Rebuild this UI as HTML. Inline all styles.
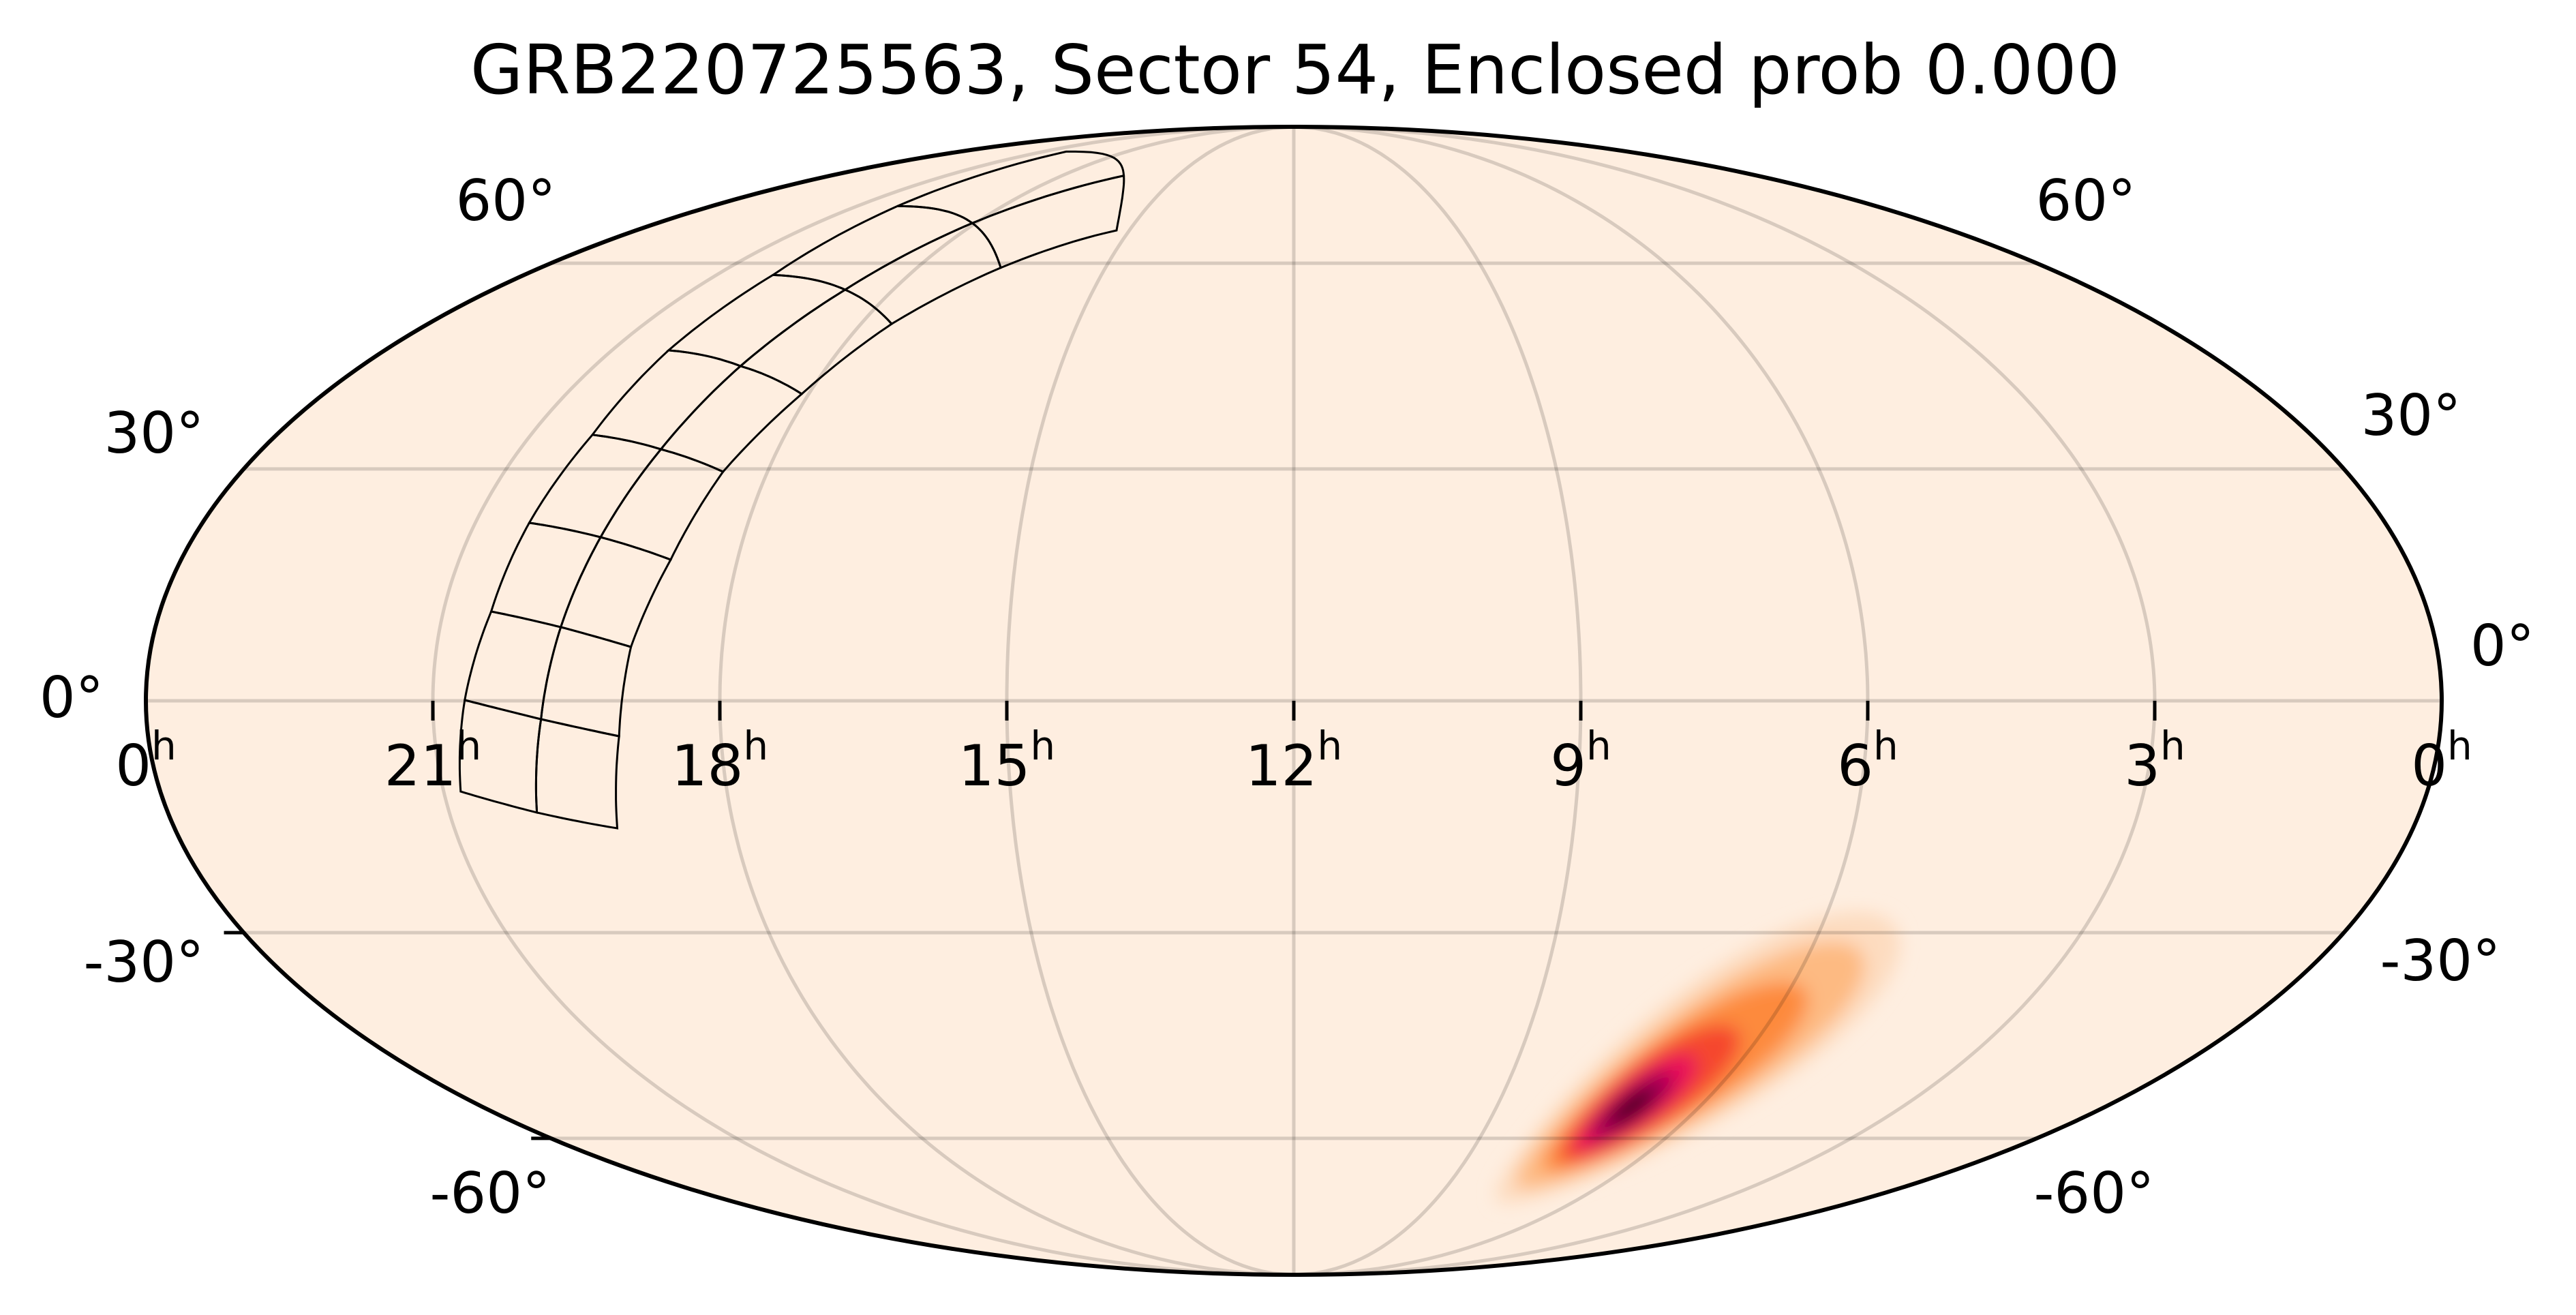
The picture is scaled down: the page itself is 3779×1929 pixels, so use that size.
<!DOCTYPE html>
<html><head><meta charset="utf-8"><style>
html,body{margin:0;padding:0;background:#fff;}
svg{display:block;}
text{font-family:"DejaVu Sans","Liberation Sans",sans-serif;fill:#000;}
</style></head><body>
<svg id="chart" width="3779" height="1929" viewBox="0 0 3779 1929" xmlns="http://www.w3.org/2000/svg">
<defs>
<clipPath id="sky"><ellipse cx="1898" cy="1028" rx="1684" ry="842"/></clipPath>
<filter id="blur" x="-50%" y="-50%" width="200%" height="200%"><feGaussianBlur stdDeviation="13"/></filter>
</defs>
<text x="1900" y="137" font-size="100" text-anchor="middle">GRB220725563, Sector 54, Enclosed prob 0.000</text>
<ellipse cx="1898" cy="1028" rx="1684" ry="842" fill="#feeee0"/>
<g id="blob" clip-path="url(#sky)" filter="url(#blur)"></g>
<g id="grid" clip-path="url(#sky)"></g>
<g id="foot"></g>
<ellipse cx="1898" cy="1028" rx="1684" ry="842" fill="none" stroke="#000" stroke-width="6"/>
<g id="ticks"></g>
<g id="labels"></g>
</svg>
<script>
// ---- data ----
const raGridHours = [3, 6, 9, 12, 15, 18, 21];
const decGrid = [-60, -30, 0, 30, 60];
const raTickLabels = ["0", "21", "18", "15", "12", "9", "6", "3", "0"];
const raTickHours = [24, 21, 18, 15, 12, 9, 6, 3, 0];
const decLabelsLeft = ["60°", "30°", "0°", "-30°", "-60°"];
const decLabelsRight = ["60°", "30°", "0°", "-30°", "-60°"];
// probability blob (deg)
const blobCenterRA = 105;
const blobCenterDec = -55;
const blobMajor = [29, 25, 19, 13, 9, 6, 3.2];
const blobMinor = [16, 13, 10.5, 8.8, 7, 4.8, 2.4];
const blobShift = [9, 8, 6, 2.5, 0.5, 0, 0];
const blobColors = ["#fddcc0", "#fdba82", "#fd8a3e", "#f5462e", "#e8085a", "#9e0052", "#2d0008"];
// TESS footprint grid: rows (south->north), columns left/mid/right
const footRA = [
 [312.3, 301.0, 288.8],
 [310.0, 298.1, 286.0],
 [307.4, 295.9, 284.4],
 [306.1, 293.4, 280.8],
 [304.1, 290.4, 277.6],
 [303.8, 286.8, 271.3],
 [301.8, 280.8, 263.6],
 [302.5, 270.9, 250.0],
 [302.7, 246.0, 228.5]
];
const footDec = [
 [-11.56, -14.26, -16.29],
 [0.09, -2.34, -4.51],
 [11.38, 9.38, 6.85],
 [22.85, 20.97, 18.05],
 [34.62, 32.65, 29.62],
 [46.55, 44.26, 40.29],
 [58.08, 55.73, 50.47],
 [69.98, 66.86, 59.25],
 [81.6, 76.06, 65.57]
];
// ---- projection ----
const CX = 1898, CY = 1028, A = 1684, B = 842;
const NS = "http://www.w3.org/2000/svg";
function theta(dec){
  const p = Math.PI*Math.sin(dec*Math.PI/180);
  if (Math.abs(Math.abs(dec)-90) < 1e-9) return Math.sign(dec)*Math.PI/2;
  let t = dec*Math.PI/180/1.3;
  for (let i=0;i<60;i++){ const f=2*t+Math.sin(2*t)-p; const d=2+2*Math.cos(2*t); if(Math.abs(d)<1e-12)break; t-=f/d; }
  return t;
}
function proj(ra, dec){
  const t = theta(dec);
  const lam = (ra-180)*Math.PI/180;
  return [CX - A*(lam/Math.PI)*Math.cos(t), CY - B*Math.sin(t)];
}
function pathFrom(pts, close){
  return pts.map((p,i)=>(i?"L":"M")+p[0].toFixed(1)+","+p[1].toFixed(1)).join("")+(close?"Z":"");
}
function mk(tag, attrs, parent){
  const e=document.createElementNS(NS,tag);
  for(const k in attrs) e.setAttribute(k, attrs[k]);
  parent.appendChild(e); return e;
}
// ---- blob ----
const blobG=document.getElementById('blob');
const u=[-0.78,0.63], v=[-0.63,-0.78];
for(let k=0;k<blobMajor.length;k++){
  const pts=[];
  for(let i=0;i<=72;i++){
    const a=i/72*2*Math.PI;
    const ra=blobCenterRA+(blobShift[k]+blobMajor[k]*Math.cos(a))*u[0]+blobMinor[k]*Math.sin(a)*v[0];
    const dec=blobCenterDec+(blobShift[k]+blobMajor[k]*Math.cos(a))*u[1]+blobMinor[k]*Math.sin(a)*v[1];
    pts.push(proj(ra,dec));
  }
  const el=mk('path',{d:pathFrom(pts,true),fill:blobColors[k]},blobG);
  
  
}
// ---- grid ----
const gridG=document.getElementById('grid');
raGridHours.forEach(h=>{
  const pts=[]; for(let d=-90;d<=90;d+=1) pts.push(proj(h*15,d));
  const el=mk('path',{d:pathFrom(pts,false),fill:'none',stroke:'#000','stroke-opacity':0.15,'stroke-width':5},gridG);
  
  
});
decGrid.forEach(d=>{
  const pts=[]; for(let r=0;r<=360;r+=2) pts.push(proj(r,d));
  const el=mk('path',{d:pathFrom(pts,false),fill:'none',stroke:'#000','stroke-opacity':0.15,'stroke-width':5},gridG);
  
  
});
// ---- footprint ----
function vec(ra,dec){const r=ra*Math.PI/180,d=dec*Math.PI/180;return [Math.cos(d)*Math.cos(r),Math.cos(d)*Math.sin(r),Math.sin(d)];}
function unvec(p){const n=Math.hypot(p[0],p[1],p[2]);let ra=Math.atan2(p[1],p[0])*180/Math.PI;if(ra<0)ra+=360;return [ra,Math.asin(p[2]/n)*180/Math.PI];}
function edge(r1,d1,r2,d2){
  const a=vec(r1,d1),b=vec(r2,d2),out=[];
  for(let i=0;i<=16;i++){const t=i/16;const q=unvec([a[0]*(1-t)+b[0]*t,a[1]*(1-t)+b[1]*t,a[2]*(1-t)+b[2]*t]);out.push(proj(q[0],q[1]));}
  return out;
}
const footG=document.getElementById('foot');
for(let r=0;r<footRA.length-1;r++){
  for(let c=0;c<2;c++){
    const corners=[[r,c],[r,c+1],[r+1,c+1],[r+1,c]];
    let pts=[];
    for(let k=0;k<4;k++){
      const p=corners[k],q=corners[(k+1)%4];
      pts=pts.concat(edge(footRA[p[0]][p[1]],footDec[p[0]][p[1]],footRA[q[0]][q[1]],footDec[q[0]][q[1]]));
    }
    const el=mk('path',{d:pathFrom(pts,true),fill:'none',stroke:'#000','stroke-width':3,'stroke-linejoin':'miter'},footG);
    
    
  }
}
// ---- ticks ----
const tickG=document.getElementById('ticks');
raTickHours.forEach((h,i)=>{
  if(i===0||i===raTickHours.length-1) return;
  const p=proj(h*15,0);
  const el=mk('line',{x1:p[0],y1:1028,x2:p[0],y2:1057,stroke:'#000','stroke-width':5},tickG);
  
  
});
[-30,-60].forEach(d=>{
  const p=proj(360,d);
  const el=mk('line',{x1:p[0]-29,y1:p[1],x2:p[0],y2:p[1],stroke:'#000','stroke-width':5},tickG);
  
  
});
// ---- labels ----
const labG=document.getElementById('labels');
raTickHours.forEach((h,i)=>{
  const x=proj(h===24?359.9999:h*15,0)[0];
  const t=mk('text',{x:x,y:1152,'font-size':83,'text-anchor':'middle'},labG);
  
  
  t.appendChild(document.createTextNode(raTickLabels[i]));
  const s=mk('tspan',{'font-size':58,dy:-38},t);
  s.textContent='h';
});
const leftPos=[[742,293],[226,634],[105,1022],[211,1410],[719,1749]];
const rightPos=[[3060,293],[3537,608],[3671,946],[3580,1408],[3072,1749]];
decLabelsLeft.forEach((s,i)=>{
  const t=mk('text',{x:leftPos[i][0],y:leftPos[i][1]+30,'font-size':83,'text-anchor':'middle'},labG);
  
  
  t.textContent=s;
});
decLabelsRight.forEach((s,i)=>{
  const t=mk('text',{x:rightPos[i][0],y:rightPos[i][1]+30,'font-size':83,'text-anchor':'middle'},labG);
  
  
  t.textContent=s;
});
</script>
</body></html>
